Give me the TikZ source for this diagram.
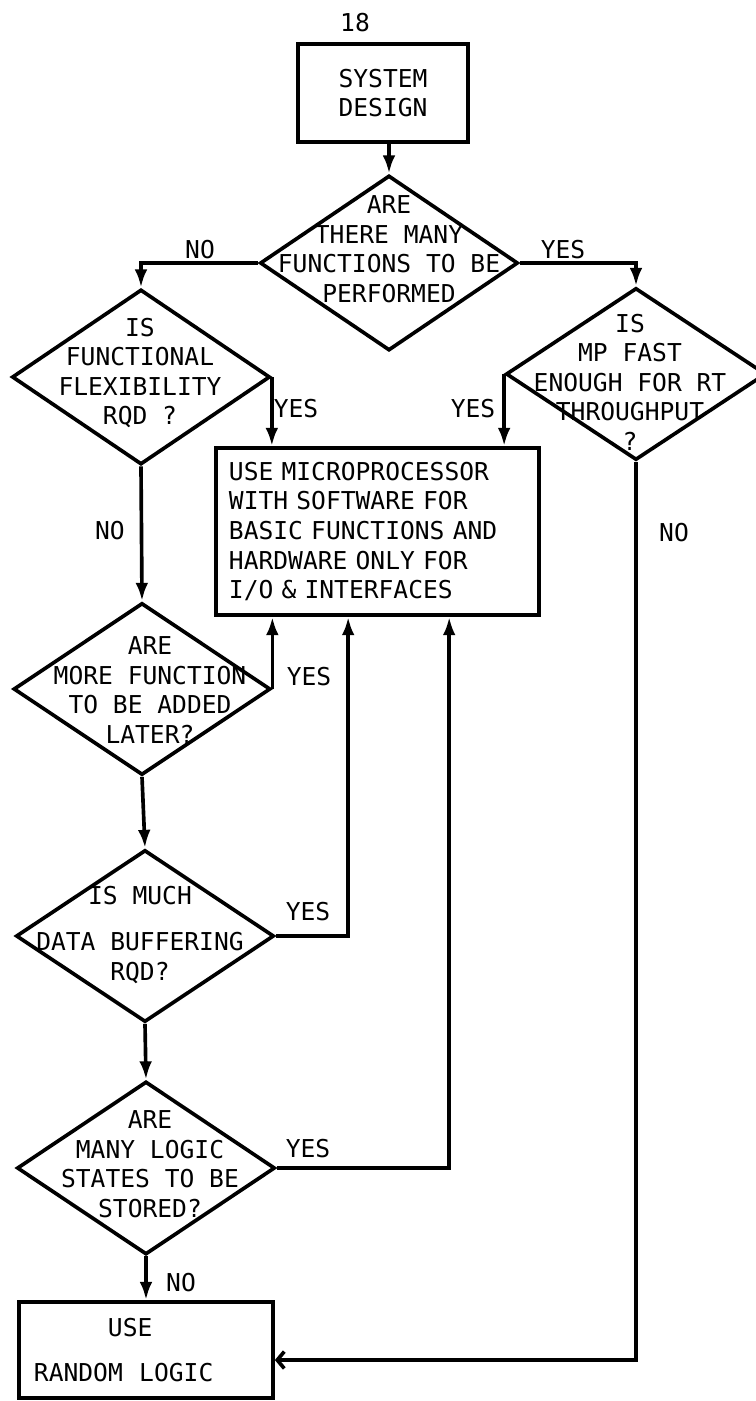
\documentclass[tikz,border=0pt]{standalone}
\usepackage{fontspec}
\setmainfont{DejaVu Sans Mono}
\usetikzlibrary{shapes.geometric,arrows.meta}

\begin{document}
\begin{tikzpicture}[
x=0.025cm, y=-0.025cm,
every node/.style={
font=\fontsize{17.5}{21}\selectfont
},
arrow/.style={-{Latex[length=13pt,width=9pt]}, line width=2.6pt},
backarrow/.style={-{Straight Barb[length=5pt,width=12pt]}, line width=2.6pt}
]

\useasboundingbox (0,0) rectangle (756,1401);

% =====================================================
% Styles
% =====================================================

\tikzstyle{block} =
[rectangle,
draw,
line width=2.6pt,
inner ysep=0pt]

\tikzstyle{decision} =
[diamond,
draw,
line width=2.6pt,
inner sep=0pt]

\tikzstyle{question} =
[align=center,
inner sep=0pt]

\tikzstyle{answer} =
[inner sep=0pt]

% =====================================================
% Nodes
% =====================================================

\node (pagenum) [answer] at (355,23) {18};

\node (sysdesign) [block, align=center, minimum width=4.25cm, minimum height=2.45cm] at (383,93)
{SYSTEM\\DESIGN};

\node (manyfunc) [decision, minimum width=6.45cm, minimum height=4.375cm] at (389,263) {};
\node (manyfuncq) [question] at (389,249)
{ARE\\THERE MANY\\FUNCTIONS TO BE\\PERFORMED};

\node (flex) [decision, minimum width=6.45cm, minimum height=4.375cm] at (141,377) {};
\node (flexq) [question] at (140,373)
{IS\\FUNCTIONAL\\FLEXIBILITY\\RQD ?};

\node (mpfast) [decision, minimum width=6.5cm, minimum height=4.3cm] at (636,374) {};
\node (mpfastq) [question] at (630,382)
{IS\\MP FAST\\ENOUGH FOR RT\\THROUGHPUT\\?};

\node (micro) [block, align=left, text width=7.425cm, inner xsep=0.325cm,
minimum width=8.075cm, minimum height=4.175cm] at (377.5,531.5)
{USE MICROPROCESSOR\\WITH SOFTWARE FOR\\BASIC FUNCTIONS AND\\HARDWARE ONLY FOR\\I/O \& INTERFACES};

\node (morefunc) [decision, minimum width=6.425cm, minimum height=4.3cm] at (142,689) {};
\node (morefuncq) [question] at (150,690)
{ARE\\MORE FUNCTION\\TO BE ADDED\\LATER?};

\node (buffer) [decision, minimum width=6.45cm, minimum height=4.3cm] at (145,936) {};
\node (bufferq) [question] at (140,935)
{IS MUCH\\[0.41cm]DATA BUFFERING\\RQD?};

\node (logicstates) [decision, minimum width=6.45cm, minimum height=4.325cm] at (146,1168) {};
\node (logicstatesq) [question] at (150,1164)
{ARE\\MANY LOGIC\\STATES TO BE\\STORED?};

\node (randlogic) [block, align=left, text width=5.6cm, inner xsep=0.375cm,
minimum width=6.35cm, minimum height=2.4cm] at (146,1350)
{\hspace*{1.85cm}USE\\[0.41cm]RANDOM~~LOGIC};

% answers
\node (no1) [answer] at (200,250) {NO};
\node (yes1) [answer] at (563,250) {YES};
\node (yes2) [answer] at (296,409) {YES};
\node (yes3) [answer] at (473,409) {YES};
\node (no2) [answer] at (110,531) {NO};
\node (no3) [answer] at (674,533) {NO};
\node (yes4) [answer] at (309,677) {YES};
\node (yes5) [answer] at (308,912) {YES};
\node (yes6) [answer] at (308,1149) {YES};
\node (no4) [answer] at (181,1283) {NO};

% =====================================================
% Arrows
% =====================================================

\draw [arrow] (sysdesign.south -| manyfunc.north) -- (manyfunc.north);

\draw [arrow] (manyfunc.west) -| (flex.north);

\draw [arrow] (manyfunc.east) -| (mpfast.north);

\draw [arrow] (flex.east) -- (flex.east |- micro.north);

\draw [arrow] (mpfast.west) -- (mpfast.west |- micro.north);

\draw [arrow] (flex.south) -- (morefunc.north);

\draw [arrow] (morefunc.east) -- (morefunc.east |- micro.south);

\draw [arrow] (morefunc.south) -- (buffer.north);

\draw [arrow] (buffer.east) -| ([xshift=3.35cm]micro.south west);

\draw [arrow] (buffer.south) -- (logicstates.north);

\draw [arrow] (logicstates.east) -| ([xshift=5.875cm]micro.south west);

\draw [arrow] (logicstates.south) -- (logicstates.south |- randlogic.north);

\draw [backarrow] (mpfast.south) |- ([yshift=-0.25cm]randlogic.east);

\end{tikzpicture}
\end{document}
